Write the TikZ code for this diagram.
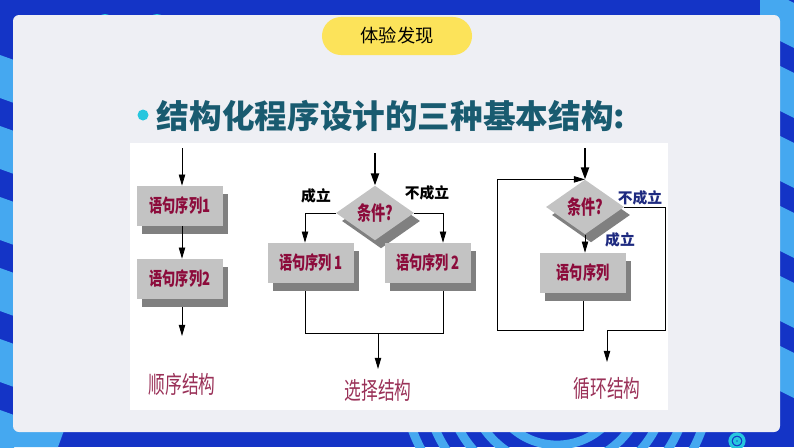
\documentclass[tikz,border=0pt]{standalone}
\usepackage{fontspec}
\setmainfont{Liberation Sans}
\newfontfamily\cjk{Noto Sans CJK SC}
\newfontfamily\cjknarrow[FakeStretch=0.72]{Noto Sans CJK SC}
\newfontfamily\cjklabel[FakeStretch=0.7]{Noto Sans CJK SC}
\usetikzlibrary{shapes.geometric,shadows,arrows.meta}
\pgfdeclarelayer{background}
\pgfsetlayers{background,main}

\definecolor{framebl}{HTML}{1434C6}
\definecolor{stripebl}{HTML}{45A8F0}
\definecolor{panelgr}{HTML}{EEEFF4}
\definecolor{pillyel}{HTML}{FCE35A}
\definecolor{titleteal}{HTML}{195B70}
\definecolor{dotcyan}{HTML}{26C6DE}
\definecolor{boxgray}{HTML}{C3C3C3}
\definecolor{shadegray}{HTML}{808080}
\definecolor{wordred}{HTML}{8C0B3B}
\definecolor{namered}{HTML}{9A3158}
\definecolor{branchnavy}{HTML}{1E2A80}

\begin{document}
\begin{tikzpicture}[x=0.025cm, y=-0.025cm,
    stmt/.style={rectangle, fill=boxgray, minimum width=2.15cm, minimum height=1cm, inner sep=0pt,
      font=\cjknarrow\bfseries\fontsize{13}{15}\selectfont, text=wordred,
      drop shadow={shadow xshift=0.125cm, shadow yshift=-0.2cm, fill=shadegray, opacity=1}},
    cond/.style={diamond, fill=boxgray, minimum width=1.95cm, minimum height=1.15cm, inner sep=0pt,
      font=\cjknarrow\bfseries\fontsize{14}{16}\selectfont, text=wordred,
      drop shadow={shadow xshift=0.15cm, shadow yshift=-0.2cm, fill=shadegray, opacity=1}},
    flow/.style={line width=0.6pt, -{Triangle[length=2.8mm,width=1.6mm]}},
    entry/.style={line width=1.4pt, -{Triangle[length=3mm,width=2mm]}},
    kind/.style={font=\cjklabel\fontsize{17}{19}\selectfont, text=namered},
    branch/.style={font=\cjk\bfseries\fontsize{10.5}{12}\selectfont}]
  \useasboundingbox (0,0) rectangle (794,447);

  % Slide background
  \begin{pgfonlayer}{background}
    \fill[framebl] (0,0) rectangle (794,447);
    \foreach \y in {55,126,197,268,339,410}
      \fill[stripebl] (0,\y) -- (14,\y+5) -- (14,\y+48) -- (0,\y+43) -- cycle;
    \foreach \y in {-14,56,126,196,266,336}
      \fill[stripebl] (760,\y) -- (794,\y+17) -- (794,\y+62) -- (760,\y+45) -- cycle;
    \fill[stripebl] (0,425) -- (66,425) -- (58,447) -- (0,447) -- cycle;
    \foreach \r in {68,89.5,111,132.5,154}
      \draw[stripebl, line width=0.22cm] (557,377) circle (\r);
    \draw[dotcyan, line width=0.08cm] (737,441) circle (7) (737,441) circle (2.5);
    \fill[dotcyan] (105,22) circle (8) (157,24) circle (10);
    \fill[panelgr, rounded corners=0.15cm] (13,15) rectangle (780,432);
    \fill[white] (130,143) rectangle (668,410);
  \end{pgfonlayer}

  % Heading
  \node[fill=pillyel, rounded corners=0.475cm, minimum width=3.75cm, minimum height=0.95cm,
    font=\cjk\fontsize{13}{15}\selectfont] (tag) at (397,36) {体验发现};
  \fill[dotcyan] (143,115) circle (5.5);
  \node[font=\cjk\bfseries\fontsize{23.2}{27}\selectfont, text=titleteal] (title) at (391,116)
    {结构化程序设计的三种基本结构:};

  % Sequence
  \coordinate (sin) at (182,148);
  \node[stmt] (s1) at (180,206) {语句序列1};
  \node[stmt] (s2) at (180,279) {语句序列2};
  \coordinate (sout) at (182,336);
  \draw[flow] (sin) -- (sin |- s1.north);
  \draw[flow] (sin |- s1.south) -- (sin |- s2.north);
  \draw[flow] (sin |- s2.south) ++(0,8) -- (sout);
  \node[kind] (seqname) at (182,384) {顺序结构};

  % Selection
  \coordinate (xin) at (375,153);
  \node[cond] (xc) at (375,213) {条件?};
  \node[stmt] (x1) at (311,263) {语句序列 1};
  \node[stmt] (x2) at (428,263) {语句序列 2};
  \coordinate (xl) at (305,333);
  \coordinate (xr) at (443,333);
  \coordinate (xout) at (378,369);
  \draw[entry] (xin) -- (xc.north);
  \draw[flow] (xc.west) -| (xl |- x1.north);
  \draw[flow] (xc.east) -| (xr |- x2.north);
  \begin{pgfonlayer}{background}
    \draw[line width=0.6pt] (xl |- x1) -- (xl) -- (xr) -- (xr |- x2);
  \end{pgfonlayer}
  \draw[flow] (xout |- xl) -- (xout);
  \node[branch] (xyes) at (316,196) {成立};
  \node[branch] (xno) at (427,193) {不成立};
  \node[kind] (selname) at (378,390) {选择结构};

  % Loop
  \coordinate (lin) at (585,148);
  \node[cond] (lc) at (585,207) {条件?};
  \node[stmt] (lb) at (583,273) {语句序列};
  \coordinate (lback) at (497,330);
  \coordinate (lright) at (665,330);
  \coordinate (lout) at (607,362);
  \draw[entry] (lin) -- (lc.north);
  \draw[flow] (lc.south) -- (lc.south |- lb.north);
  \begin{pgfonlayer}{background}
    \draw[flow] (lb) |- (lback) |- (lc.north);
  \end{pgfonlayer}
  \draw[flow] (lc.east) -| (lright) -| (lout);
  \node[branch, text=branchnavy] (lno) at (640,198) {不成立};
  \node[branch, text=branchnavy] (lyes) at (620,240) {成立};
  \node[kind] (loopname) at (607,388) {循环结构};
\end{tikzpicture}
\end{document}
